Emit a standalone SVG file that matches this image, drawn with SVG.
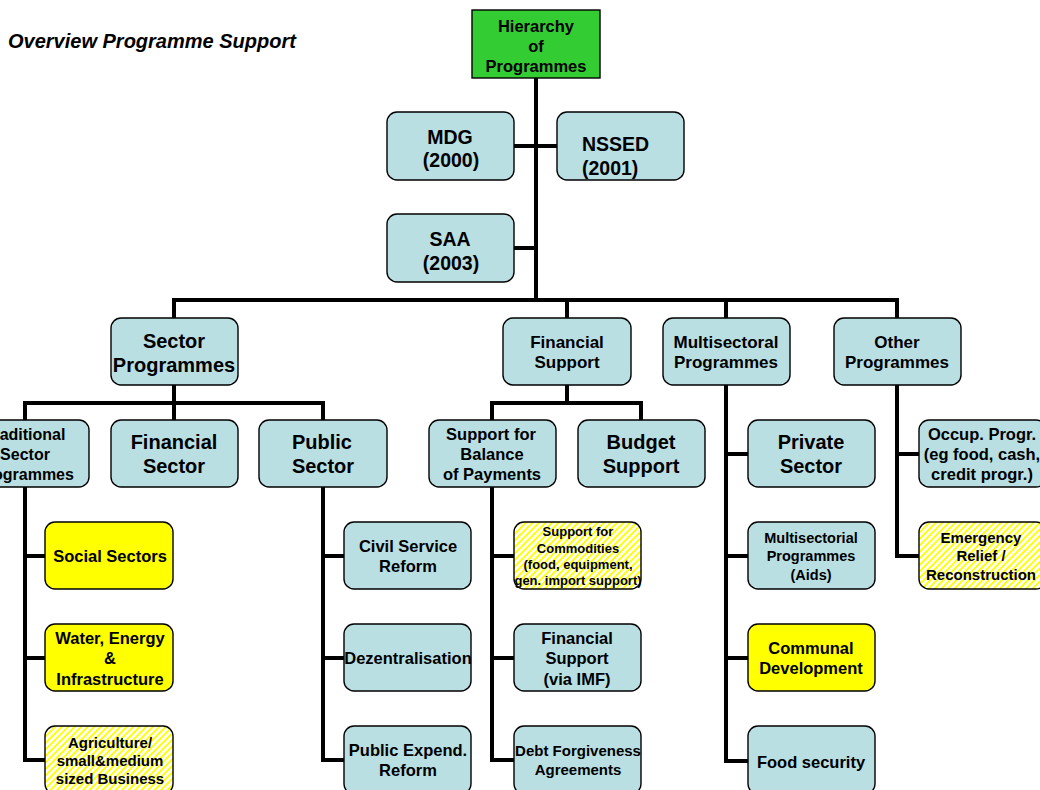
<svg xmlns="http://www.w3.org/2000/svg" width="1040" height="790" viewBox="0 0 1040 790">
  <defs>
    <pattern id="hatch" width="4.6" height="4.6" patternUnits="userSpaceOnUse" patternTransform="rotate(45)">
      <rect width="4.6" height="4.6" fill="#ffffff"/>
      <rect width="1.9" height="4.6" fill="#ffff00"/>
    </pattern>
    <style>
      .box { fill: #b9dfe3; stroke: #000; stroke-width: 1.4; }
      .yel { fill: #ffff00; stroke: #000; stroke-width: 1.4; }
      .hat { fill: url(#hatch); stroke: #000; stroke-width: 1.4; }
      .root { fill: #33cc33; stroke: #000; stroke-width: 1.4; }
      text { font-family: "Liberation Sans", Arial, sans-serif; font-weight: bold; fill: #000; text-anchor: middle; }
      .title { font-style: italic; font-size: 20px; text-anchor: start; }
      .conn { fill: none; stroke: #000; stroke-width: 4; stroke-linejoin: miter; }
    </style>
  </defs>
  <rect width="1040" height="790" fill="#ffffff"/>

  <text class="title" x="8" y="48">Overview Programme Support</text>

  <!-- connector lines -->
  <g id="connectors" class="conn">
    <path d="M536 78 V300"/>
    <path d="M514 146 H557"/>
    <path d="M514 248 H536"/>
    <path d="M174 318 V300 H897 V318 M567 300 V318 M726 300 V318"/>
    <path d="M174 385 V420 M25 420 V403 H323 V420"/>
    <path d="M567 385 V403 M492 420 V403 H641 V420"/>
    <path d="M726 385 V761 H748 M726 454 H748 M726 556 H748 M726 658 H748"/>
    <path d="M897 385 V556 H919 M897 454 H919"/>
    <path d="M25 487 V760 H45 M25 556 H45 M25 658 H45"/>
    <path d="M323 487 V760 H344 M323 556 H344 M323 658 H344"/>
    <path d="M492 487 V760 H514 M492 556 H514 M492 658 H514"/>
  </g>

  <g id="hierarchy">
    <rect class="root" x="472" y="10" width="128" height="68"/>
    <text font-size="16.5"><tspan x="536" y="32">Hierarchy</tspan><tspan x="536" y="52">of</tspan><tspan x="536" y="72">Programmes</tspan></text>
  </g>
  <g id="mdg">
    <rect class="box" x="387" y="112" width="127" height="68" rx="10"/>
    <text font-size="19.5"><tspan x="450" y="144">MDG</tspan><tspan x="451" y="167">(2000)</tspan></text>
  </g>
  <g id="nssed">
    <rect class="box" x="557" y="112" width="127" height="68" rx="10"/>
    <text font-size="19.5" style="text-anchor:start"><tspan x="582" y="151">NSSED</tspan><tspan x="582" y="175">(2001)</tspan></text>
  </g>
  <g id="saa">
    <rect class="box" x="387" y="214" width="127" height="68" rx="10"/>
    <text font-size="19.5"><tspan x="450" y="246">SAA</tspan><tspan x="451" y="270">(2003)</tspan></text>
  </g>

  <g id="sector-programmes">
    <rect class="box" x="111" y="318" width="127" height="67" rx="10"/>
    <text font-size="20"><tspan x="174" y="348">Sector</tspan><tspan x="174" y="372">Programmes</tspan></text>
  </g>
  <g id="financial-support">
    <rect class="box" x="503" y="318" width="128" height="67" rx="10"/>
    <text font-size="17"><tspan x="567" y="348">Financial</tspan><tspan x="567" y="368">Support</tspan></text>
  </g>
  <g id="multisectoral-programmes">
    <rect class="box" x="663" y="318" width="127" height="67" rx="10"/>
    <text font-size="17"><tspan x="726" y="348">Multisectoral</tspan><tspan x="726" y="368">Programmes</tspan></text>
  </g>
  <g id="other-programmes">
    <rect class="box" x="834" y="318" width="127" height="67" rx="10"/>
    <text font-size="17"><tspan x="897" y="348">Other</tspan><tspan x="897" y="368">Programmes</tspan></text>
  </g>

  <g id="traditional-sector">
    <rect class="box" x="-38" y="420" width="127" height="67" rx="10"/>
    <text font-size="16"><tspan x="25" y="440">Traditional</tspan><tspan x="25" y="460">Sector</tspan><tspan x="25" y="480">Programmes</tspan></text>
  </g>
  <g id="financial-sector">
    <rect class="box" x="111" y="420" width="127" height="67" rx="10"/>
    <text font-size="20"><tspan x="174" y="449">Financial</tspan><tspan x="174" y="473">Sector</tspan></text>
  </g>
  <g id="public-sector">
    <rect class="box" x="259" y="420" width="128" height="67" rx="10"/>
    <text font-size="20"><tspan x="322" y="449">Public</tspan><tspan x="323" y="473">Sector</tspan></text>
  </g>
  <g id="balance-of-payments">
    <rect class="box" x="429" y="420" width="127" height="67" rx="10"/>
    <text font-size="16.5"><tspan x="491" y="440">Support for</tspan><tspan x="492" y="460">Balance</tspan><tspan x="492" y="480">of Payments</tspan></text>
  </g>
  <g id="budget-support">
    <rect class="box" x="578" y="420" width="127" height="67" rx="10"/>
    <text font-size="20"><tspan x="641" y="449">Budget</tspan><tspan x="641" y="473">Support</tspan></text>
  </g>
  <g id="private-sector">
    <rect class="box" x="748" y="420" width="127" height="67" rx="10"/>
    <text font-size="20"><tspan x="811" y="449">Private</tspan><tspan x="811" y="473">Sector</tspan></text>
  </g>
  <g id="occupation-programmes">
    <rect class="box" x="919" y="420" width="127" height="67" rx="10"/>
    <text font-size="16.5"><tspan x="982" y="440">Occup. Progr.</tspan><tspan x="982" y="460">(eg food, cash,</tspan><tspan x="982" y="480">credit progr.)</tspan></text>
  </g>

  <g id="social-sectors">
    <rect class="yel" x="45" y="522" width="128" height="67" rx="10"/>
    <text font-size="16.5"><tspan x="110" y="562">Social Sectors</tspan></text>
  </g>
  <g id="water-energy">
    <rect class="yel" x="45" y="624" width="128" height="67" rx="10"/>
    <text font-size="16.5"><tspan x="110" y="644">Water, Energy</tspan><tspan x="110" y="664">&amp;</tspan><tspan x="110" y="685">Infrastructure</tspan></text>
  </g>
  <g id="agriculture">
    <rect class="hat" x="45" y="726" width="128" height="68" rx="10"/>
    <text font-size="15"><tspan x="110" y="748">Agriculture/</tspan><tspan x="110" y="766">small&amp;medium</tspan><tspan x="110" y="784">sized Business</tspan></text>
  </g>

  <g id="civil-service-reform">
    <rect class="box" x="344" y="522" width="127" height="67" rx="10"/>
    <text font-size="16.5"><tspan x="408" y="552">Civil Service</tspan><tspan x="408" y="572">Reform</tspan></text>
  </g>
  <g id="dezentralisation">
    <rect class="box" x="344" y="624" width="127" height="67" rx="10"/>
    <text font-size="16.5"><tspan x="408" y="664">Dezentralisation</tspan></text>
  </g>
  <g id="public-expenditure-reform">
    <rect class="box" x="344" y="726" width="127" height="68" rx="10"/>
    <text font-size="16.5"><tspan x="408" y="756">Public Expend.</tspan><tspan x="408" y="776">Reform</tspan></text>
  </g>

  <g id="commodities">
    <rect class="hat" x="514" y="522" width="127" height="67" rx="10"/>
    <text font-size="13"><tspan x="578" y="536">Support for</tspan><tspan x="578" y="553">Commodities</tspan><tspan x="578" y="569">(food, equipment,</tspan><tspan x="578" y="585">gen. import support)</tspan></text>
  </g>
  <g id="imf-support">
    <rect class="box" x="514" y="624" width="127" height="67" rx="10"/>
    <text font-size="16.5"><tspan x="577" y="644">Financial</tspan><tspan x="577" y="664">Support</tspan><tspan x="577" y="685">(via IMF)</tspan></text>
  </g>
  <g id="debt-forgiveness">
    <rect class="box" x="514" y="726" width="127" height="68" rx="10"/>
    <text font-size="15"><tspan x="578" y="756">Debt Forgiveness</tspan><tspan x="578" y="775">Agreements</tspan></text>
  </g>

  <g id="multisectorial-aids">
    <rect class="box" x="748" y="522" width="127" height="67" rx="10"/>
    <text font-size="14.5"><tspan x="811" y="543">Multisectorial</tspan><tspan x="811" y="561">Programmes</tspan><tspan x="811" y="580">(Aids)</tspan></text>
  </g>
  <g id="communal-development">
    <rect class="yel" x="748" y="624" width="127" height="67" rx="10"/>
    <text font-size="16.5"><tspan x="811" y="654">Communal</tspan><tspan x="811" y="674">Development</tspan></text>
  </g>
  <g id="food-security">
    <rect class="box" x="748" y="726" width="127" height="68" rx="10"/>
    <text font-size="16.5"><tspan x="811" y="768">Food security</tspan></text>
  </g>

  <g id="emergency-relief">
    <rect class="hat" x="919" y="522" width="127" height="67" rx="10"/>
    <text font-size="15"><tspan x="981" y="543">Emergency</tspan><tspan x="981" y="561">Relief /</tspan><tspan x="981" y="580">Reconstruction</tspan></text>
  </g>
</svg>
